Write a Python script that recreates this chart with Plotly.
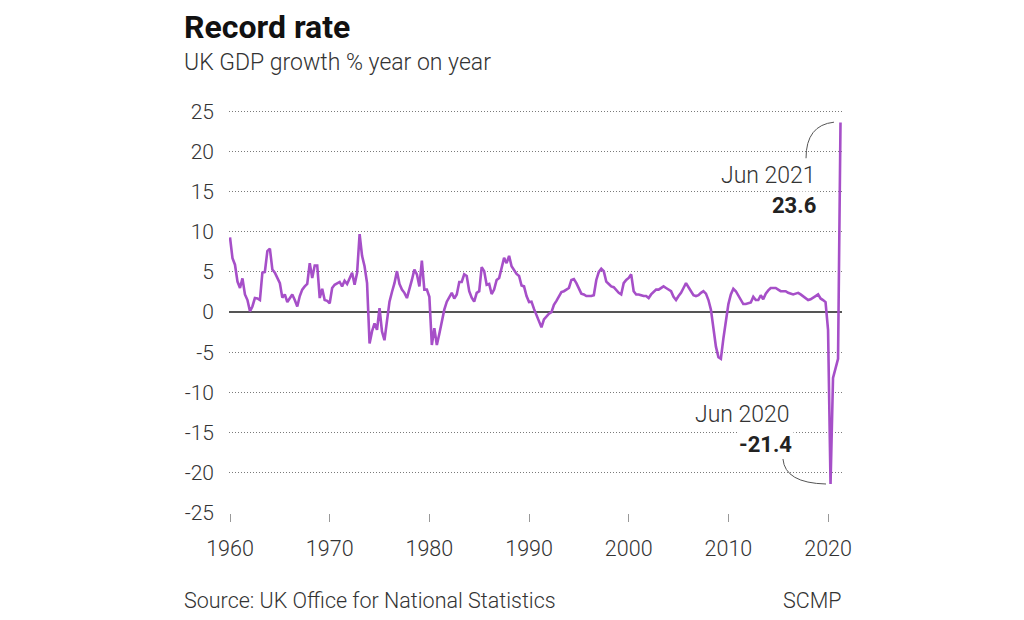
import pandas as pd
import plotly.graph_objects as go

# UK GDP growth, % year on year, quarterly from 1960 Q1 to 2021 Q2
growth_1960s = [9.3, 6.7, 5.9, 3.8, 3.0, 4.2, 2.2, 1.5, 0.1, 0.7, 1.75, 1.7,
                1.5, 4.9, 5.0, 7.6, 7.9, 5.3, 4.9, 4.2, 3.6, 1.8, 2.2, 1.25,
                1.7, 2.2, 1.5, 0.7, 2.0, 2.8, 3.2, 3.5, 6.1, 4.25, 5.8, 5.8,
                1.75, 2.9, 1.5, 1.4]
growth_1970s = [1.1, 3.0, 3.4, 3.6, 3.75, 3.2, 3.9, 3.5, 4.2, 4.9, 3.4, 4.9,
                9.7, 7.0, 5.7, 3.6, -3.9, -2.4, -1.4, -2.2, 0.5, -2.4, -3.5, -0.75,
                1.3, 2.5, 3.6, 5.1, 3.5, 2.8, 2.4, 1.75, 2.8, 4.0, 5.3, 4.7,
                3.2, 6.4, 2.8, 2.8]
growth_1980s = [1.9, -4.1, -2.0, -4.1, -2.7, -1.0, 0.3, 1.3, 1.8, 2.4, 1.7, 2.2,
                3.75, 3.75, 4.7, 4.5, 2.6, 1.8, 1.3, 2.4, 2.6, 5.6, 5.1, 3.4,
                3.5, 2.25, 2.8, 4.0, 4.25, 5.5, 6.75, 6.1, 7.0, 5.7, 5.2, 4.75,
                4.5, 3.3, 3.2, 2.0]
growth_1990s = [1.25, 1.3, 0.4, -0.3, -1.2, -1.9, -0.9, -0.5, -0.2, 0.0, 0.9, 1.4,
                2.0, 2.5, 2.6, 2.8, 3.0, 4.0, 4.1, 3.6, 3.0, 2.3, 2.2, 2.0,
                2.0, 2.0, 2.1, 4.0, 5.0, 5.4, 5.1, 3.8, 3.5, 3.2, 3.1, 2.7,
                2.4, 2.2, 3.6, 4.0]
growth_2000s = [4.25, 4.7, 2.6, 2.2, 2.2, 2.1, 2.0, 2.0, 1.75, 2.2, 2.5, 2.8,
                2.8, 3.0, 3.2, 3.0, 2.8, 2.6, 1.9, 1.5, 2.0, 2.4, 3.0, 3.6,
                3.1, 2.5, 2.1, 2.0, 2.1, 2.4, 2.6, 2.3, 1.5, 0.3, -1.8, -4.3,
                -5.6, -5.8, -3.3, -1.0]
growth_2010s = [1.0, 2.2, 2.9, 2.6, 2.0, 1.4, 1.0, 1.0, 1.1, 1.2, 1.9, 1.5,
                1.5, 2.1, 1.6, 2.3, 2.7, 3.0, 3.0, 3.0, 2.8, 2.6, 2.6, 2.6,
                2.4, 2.3, 2.2, 2.3, 2.4, 2.2, 2.0, 1.7, 1.5, 1.6, 1.75, 2.0,
                2.2, 1.7, 1.5, 1.25]
growth_2020s = [-2.2, -21.4, -8.2, -7.0, -5.8, 23.6]

growth = (growth_1960s + growth_1970s + growth_1980s + growth_1990s
          + growth_2000s + growth_2010s + growth_2020s)
dates = pd.date_range("1960-01-01", periods=len(growth), freq="QS")

x_tick_years = [1960, 1970, 1980, 1990, 2000, 2010, 2020]
y_ticks = [25, 20, 15, 10, 5, 0, -5, -10, -15, -20, -25]

FONT = "Roboto"
TXT = "#333333"

fig = go.Figure()
fig.add_trace(go.Scatter(
    x=dates, y=growth, mode="lines",
    line=dict(color="#a64fc8", width=2.6),
    hoverinfo="skip", showlegend=False,
))

fig.update_layout(
    width=1024, height=620,
    margin=dict(l=221, r=190, t=100, b=115),
    paper_bgcolor="white", plot_bgcolor="white",
    font=dict(family=FONT, color=TXT),
    showlegend=False,
)

fig.update_xaxes(
    range=["1959-11-25", "2021-05-26"],
    tickvals=[f"{y}-01-01" for y in x_tick_years],
    ticktext=[str(y) for y in x_tick_years],
    showgrid=False, zeroline=False, showline=False,
    ticks="outside", ticklen=8, tickwidth=1, tickcolor="#999999",
    tickfont=dict(family=FONT, size=21.5, color=TXT, weight=300),
    ticklabelstandoff=8,
)
fig.update_yaxes(
    range=[-25, 25.4],
    tickvals=y_ticks,
    ticktext=[str(v) for v in y_ticks],
    showgrid=True, gridcolor="#7a7a7a", gridwidth=1, griddash="1px,2px",
    zeroline=True, zerolinecolor="#555555", zerolinewidth=2,
    showline=False, ticks="",
    tickfont=dict(family=FONT, size=21, color=TXT, weight=300),
    ticklabelstandoff=14,
)

# Title, subtitle and footer
fig.add_annotation(xref="paper", yref="paper", x=-0.0767, y=1.199,
                   xanchor="left", yanchor="middle", showarrow=False,
                   text="<b>Record rate</b>",
                   font=dict(family=FONT, size=32, color="#111111"))
fig.add_annotation(xref="paper", yref="paper", x=-0.0767, y=1.113,
                   xanchor="left", yanchor="middle", showarrow=False,
                   text="UK GDP growth % year on year",
                   font=dict(family=FONT, size=23, color=TXT, weight=300))
fig.add_annotation(xref="paper", yref="paper", x=-0.0767, y=-0.217,
                   xanchor="left", yanchor="middle", showarrow=False,
                   text="Source: UK Office for National Statistics",
                   font=dict(family=FONT, size=21.5, color=TXT, weight=300))
fig.add_annotation(xref="paper", yref="paper", x=1.003, y=-0.217,
                   xanchor="right", yanchor="middle", showarrow=False,
                   text="SCMP",
                   font=dict(family=FONT, size=21.5, color=TXT, weight=300))

# Callouts
fig.add_annotation(xref="paper", yref="paper", x=0.961, y=0.834,
                   xanchor="right", yanchor="middle", showarrow=False,
                   text="Jun 2021", bgcolor="white",
                   font=dict(family=FONT, size=23, color=TXT, weight=300))
fig.add_annotation(xref="paper", yref="paper", x=0.961, y=0.760,
                   xanchor="right", yanchor="middle", showarrow=False,
                   text="<b>23.6</b>", bgcolor="white",
                   font=dict(family=FONT, size=22, color="#222222"))
fig.add_annotation(xref="paper", yref="paper", x=0.919, y=0.242,
                   xanchor="right", yanchor="middle", showarrow=False,
                   text="Jun 2020", bgcolor="white",
                   font=dict(family=FONT, size=23, color=TXT, weight=300))
fig.add_annotation(xref="paper", yref="paper", x=0.921, y=0.168,
                   xanchor="right", yanchor="middle", showarrow=False,
                   text="<b>-21.4</b>", bgcolor="white",
                   font=dict(family=FONT, size=22, color="#222222"))

fig.add_shape(type="path", xref="paper", yref="paper",
              path="M 0.9413 0.876 Q 0.9413 0.9576 0.9869 0.965",
              line=dict(color="#555555", width=1))
fig.add_shape(type="path", xref="paper", yref="paper",
              path="M 0.9037 0.1333 Q 0.907 0.074 0.9739 0.0716",
              line=dict(color="#555555", width=1))

fig.write_html("out.html")
